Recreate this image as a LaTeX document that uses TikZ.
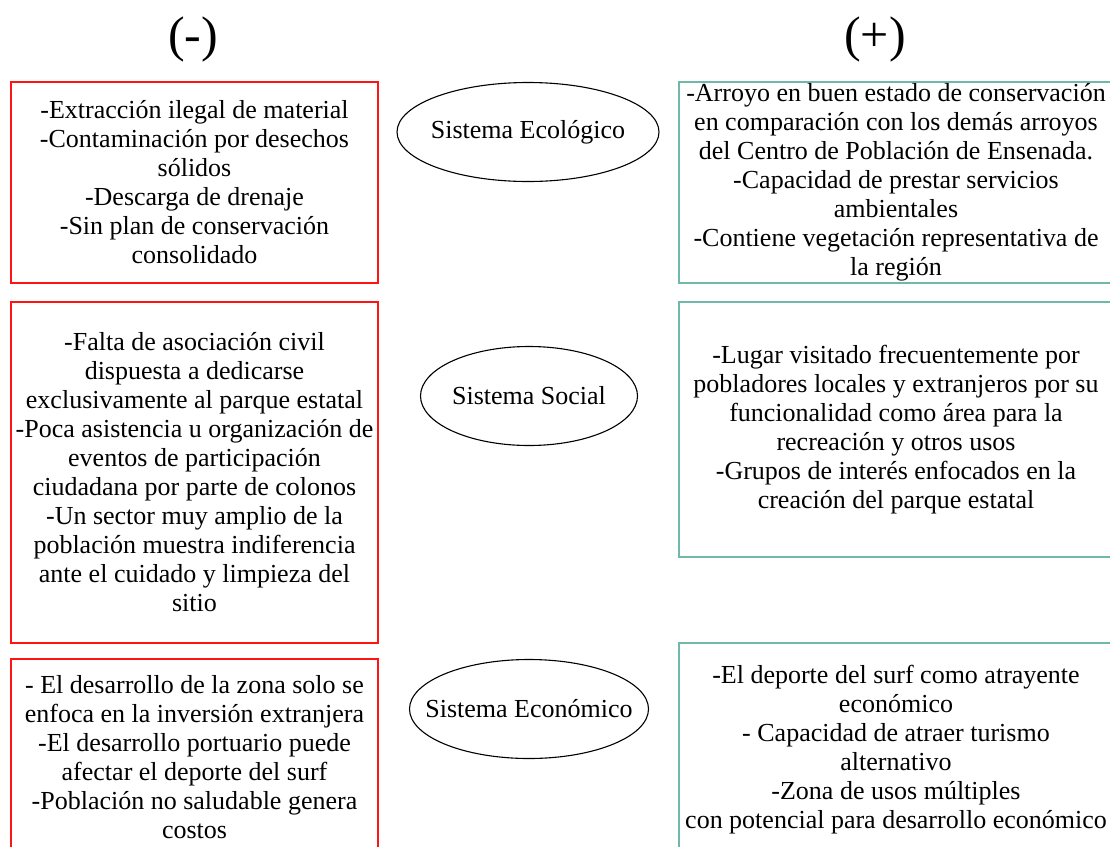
\documentclass[tikz,border=0pt]{standalone}
\usepackage{fontspec}
\setmainfont{Liberation Serif}
\usetikzlibrary{shapes.geometric}
\definecolor{negred}{RGB}{255,20,20}
\definecolor{posteal}{RGB}{112,184,170}
\begin{document}
\begin{tikzpicture}[x=1pt,y=-1pt,
  txt/.style={font=\fontsize{26}{29}\selectfont, align=center, inner sep=0pt},
  negbox/.style={txt, draw=negred, line width=1.7pt, rectangle, minimum width=367pt},
  posbox/.style={txt, draw=posteal, line width=1.7pt, rectangle, minimum width=434pt},
  sysell/.style={draw=black, line width=1.1pt, ellipse, inner sep=0pt, minimum height=99pt},
  header/.style={font=\fontsize{50}{60}\selectfont, inner sep=0pt}]
\useasboundingbox (0,0) rectangle (1110,846);
\clip (0,0) rectangle (1110,846);
\fill[white] (0,0) rectangle (1110,846);

\node[header] (neg) at (193,39) {(-)};
\node[header] (pos) at (875,39) {(+)};

\node[negbox, minimum height=201pt] (n1) at (194.5,182.5)
 {-Extracción ilegal de material\\-Contaminación por desechos\\sólidos\\-Descarga de drenaje\\-Sin plan de conservación\\consolidado};
\node[negbox, minimum height=341pt] (n2) at (194.5,472.5)
 {-Falta de asociación civil\\dispuesta a dedicarse\\exclusivamente al parque estatal\\-Poca asistencia u organización de\\eventos de participación\\ciudadana por parte de colonos\\-Un sector muy amplio de la\\población muestra indiferencia\\ante el cuidado y limpieza del\\sitio};
\node[negbox, minimum height=196pt] (n3) at (194.5,757)
 {- El desarrollo de la zona solo se\\enfoca en la inversión extranjera\\-El desarrollo portuario puede\\afectar el deporte del surf\\-Población no saludable genera\\costos};

\node[sysell, minimum width=262pt, label={[txt]center:Sistema Ecológico}] (e1) at (528,132) {};
\node[sysell, minimum width=217pt, label={[txt]center:Sistema Social}] (e2) at (529,396) {};
\node[sysell, minimum width=239pt, label={[txt]center:Sistema Económico}] (e3) at (529,709) {};

\node[posbox, minimum height=201pt] (p1) at (896,182.5)
 {-Arroyo en buen estado de conservación\\en comparación con los demás arroyos\\del Centro de Población de Ensenada.\\-Capacidad de prestar servicios\\ambientales\\-Contiene vegetación representativa de\\la región};
\node[posbox, minimum height=255pt] (p2) at (896,429.5)
 {-Lugar visitado frecuentemente por\\pobladores locales y extranjeros por su\\funcionalidad como área para la\\recreación y otros usos\\-Grupos de interés enfocados en la\\creación del parque estatal};
\node[posbox, minimum height=213pt] (p3) at (896,749.5)
 {-El deporte del surf como atrayente\\económico\\- Capacidad de atraer turismo\\alternativo\\-Zona de usos múltiples\\con potencial para desarrollo económico};
\end{tikzpicture}
\end{document}
